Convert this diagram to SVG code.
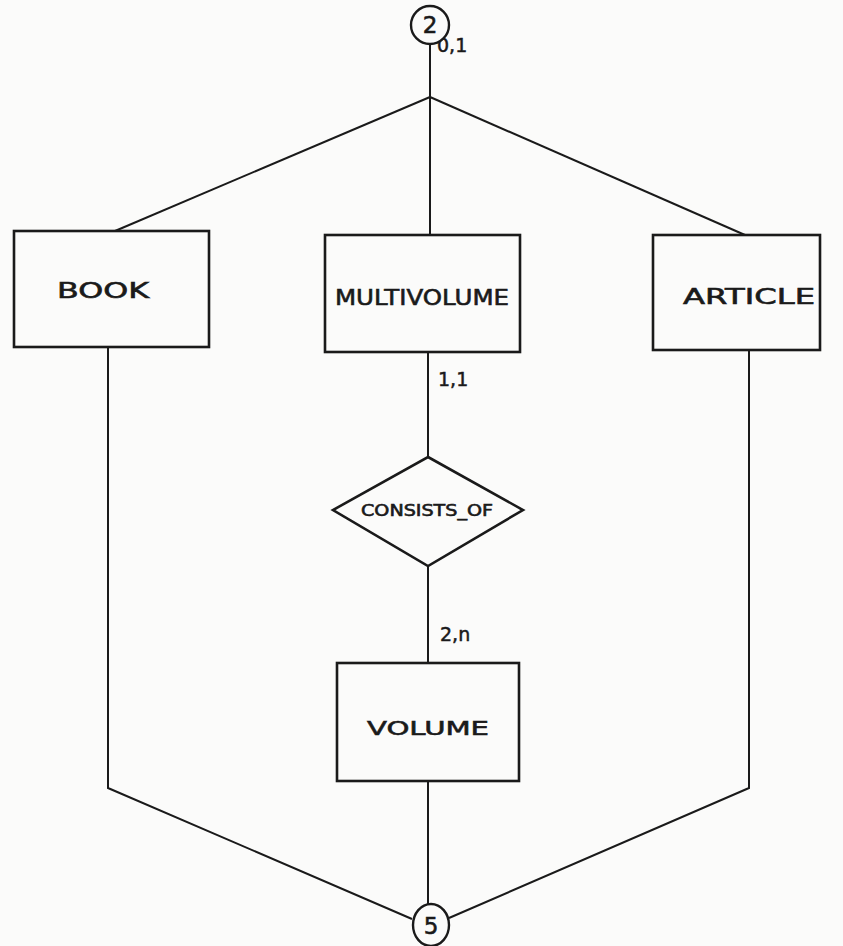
<svg xmlns="http://www.w3.org/2000/svg" width="843" height="946" viewBox="0 0 843 946">
  <style>
    .box { fill: #fbfbfa; stroke: #1a1a1a; stroke-width: 2.6; }
    .link { fill: none; stroke: #1a1a1a; stroke-width: 2; }
    .lbl { font-family: "DejaVu Sans", "Liberation Sans", sans-serif; fill: #1a1a1a; stroke: #1a1a1a; stroke-width: 0.6; text-anchor: middle; dominant-baseline: central; }
    .card { font-family: "DejaVu Sans", "Liberation Sans", sans-serif; fill: #1a1a1a; stroke: #1a1a1a; stroke-width: 0.5; font-size: 19px; }
  </style>
  <rect width="843" height="946" fill="#fbfbfa"/>

  <!-- connectors -->
  <g id="connectors">
    <line class="link" x1="430" y1="44" x2="430" y2="97"/>
    <line class="link" x1="430" y1="97" x2="115" y2="231"/>
    <line class="link" x1="430" y1="97" x2="430" y2="235"/>
    <line class="link" x1="430" y1="97" x2="745" y2="235"/>
    <line class="link" x1="428" y1="352" x2="428" y2="457"/>
    <line class="link" x1="428" y1="566" x2="428" y2="663"/>
    <line class="link" x1="428" y1="781" x2="428" y2="904"/>
    <polyline class="link" points="108,347 108,788 412,919"/>
    <polyline class="link" points="749,350 749,788 449,918"/>
  </g>

  <!-- cardinalities -->
  <g id="cardinalities">
    <text class="card" x="437" y="52">0,1</text>
    <text class="card" x="438" y="386">1,1</text>
    <text class="card" x="440" y="641">2,n</text>
  </g>

  <g id="node-2">
    <circle cx="430" cy="25" r="19" fill="#fbfbfa" stroke="#1a1a1a" stroke-width="2.4"/>
    <text class="lbl" x="430" y="25" font-size="23">2</text>
  </g>

  <g id="node-book">
    <rect class="box" x="14" y="231" width="195" height="116"/>
    <text class="lbl" x="103" y="291" font-size="21" textLength="92" lengthAdjust="spacingAndGlyphs">BOOK</text>
  </g>

  <g id="node-multivolume">
    <rect class="box" x="325" y="235" width="195" height="117"/>
    <text class="lbl" x="422" y="298" font-size="21" textLength="174" lengthAdjust="spacingAndGlyphs">MULTIVOLUME</text>
  </g>

  <g id="node-article">
    <rect class="box" x="653" y="235" width="167" height="115"/>
    <text class="lbl" x="749" y="297" font-size="21" textLength="132" lengthAdjust="spacingAndGlyphs">ARTICLE</text>
  </g>

  <g id="node-consists-of">
    <polygon class="box" points="428,457 523,510 428,566 333,510"/>
    <text class="lbl" x="427" y="511" font-size="15" textLength="132" lengthAdjust="spacingAndGlyphs">CONSISTS_OF</text>
  </g>

  <g id="node-volume">
    <rect class="box" x="337" y="663" width="182" height="118"/>
    <text class="lbl" x="428" y="728" font-size="20" textLength="122" lengthAdjust="spacingAndGlyphs">VOLUME</text>
  </g>

  <g id="node-5">
    <ellipse cx="431" cy="925" rx="18" ry="21" fill="#fbfbfa" stroke="#1a1a1a" stroke-width="2.4"/>
    <text class="lbl" x="431" y="926" font-size="23">5</text>
  </g>
</svg>
